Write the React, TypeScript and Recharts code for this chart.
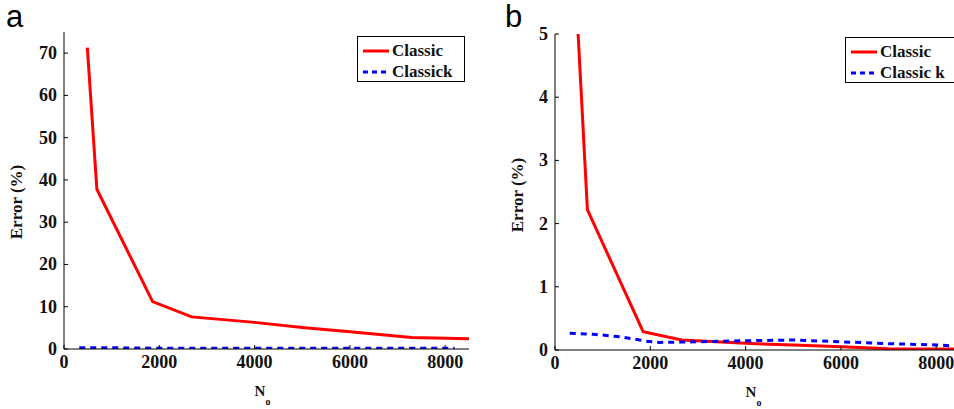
import React from 'react';
import { LineChart, Line, XAxis, YAxis, Legend, Label } from 'recharts';

// panel a
const redA = [
  { n: 490, err: 71.3 }, { n: 690, err: 37.8 }, { n: 1860, err: 11.2 },
  { n: 2680, err: 7.6 }, { n: 4000, err: 6.3 }, { n: 5000, err: 5.1 },
  { n: 6000, err: 4.1 }, { n: 7300, err: 2.75 }, { n: 8500, err: 2.4 },
];
const blueA = [
  { n: 320, err: 0.3 }, { n: 800, err: 0.3 }, { n: 1900, err: 0.2 },
  { n: 4000, err: 0.2 }, { n: 6000, err: 0.2 }, { n: 8200, err: 0.15 },
];
// panel b
const redB = [
  { n: 450, err: 5.5 }, { n: 680, err: 2.22 }, { n: 1850, err: 0.29 },
  { n: 2660, err: 0.16 }, { n: 4000, err: 0.105 }, { n: 5000, err: 0.08 },
  { n: 6000, err: 0.05 }, { n: 7000, err: 0.02 }, { n: 8500, err: 0.015 },
];
const blueB = [
  { n: 310, err: 0.265 }, { n: 800, err: 0.25 }, { n: 1360, err: 0.21 },
  { n: 1920, err: 0.14 }, { n: 2200, err: 0.12 }, { n: 3000, err: 0.13 },
  { n: 4000, err: 0.147 }, { n: 5000, err: 0.158 }, { n: 6000, err: 0.13 },
  { n: 7000, err: 0.1 }, { n: 8000, err: 0.08 }, { n: 8500, err: 0.06 },
];

const xTicks = [0, 2000, 4000, 6000, 8000];
const yTicksA = [0, 10, 20, 30, 40, 50, 60, 70];
const yTicksB = [0, 1, 2, 3, 4, 5];
const namesA = ['Classic', 'Classick'];
const namesB = ['Classic', 'Classic k'];

const serif = '"Liberation Serif", "Times New Roman", serif';
const RED = '#ff0000';
const BLUE = '#0000ff';

const XTick = (p: any) => (
  <g>
    <line x1={p.x} y1={p.y} x2={p.x} y2={p.y - 4} stroke="#000" strokeWidth={1} />
    <text x={p.x} y={p.y + 19} textAnchor="middle" fontFamily={serif} fontWeight="bold" fontSize={18} fill="#111">
      {p.payload.value}
    </text>
  </g>
);

const YTick = (p: any) => (
  <g>
    <line x1={p.x} y1={p.y} x2={p.x + 4} y2={p.y} stroke="#000" strokeWidth={1} />
    <text x={p.x - 7} y={p.y + 6} textAnchor="end" fontFamily={serif} fontWeight="bold" fontSize={18} fill="#111">
      {p.payload.value}
    </text>
  </g>
);

const XLabel = (p: any) => {
  const vb = p.viewBox;
  const cx = vb.x + vb.width / 2 - 4;
  return (
    <text x={cx} y={vb.y + 47} textAnchor="middle" fontFamily={serif} fontWeight="bold" fontSize={15} fill="#111">
      <tspan>N</tspan>
      <tspan fontSize={10} dy={9}>o</tspan>
    </text>
  );
};

const makeYLabel = (lx: number, ly: number) => () => (
  <text x={lx} y={ly} transform={`rotate(-90 ${lx} ${ly})`} textAnchor="middle" dominantBaseline="central"
    fontFamily={serif} fontWeight="bold" fontSize={17} fill="#111">
    Error (%)
  </text>
);

const makeLegend = (w: number) => (props: any) => (
  <div style={{ border: '1.5px solid #000', background: '#fff', width: w, height: 46, padding: '3px 0 0 5px', boxSizing: 'border-box' }}>
    {(props.payload || []).map((e: any, i: number) => (
      <div key={i} style={{ display: 'flex', alignItems: 'center', height: 21 }}>
        <svg width={26} height={6} style={{ marginRight: 3 }}>
          <line x1={0} y1={3} x2={26} y2={3} stroke={e.color} strokeWidth={3} strokeDasharray={i === 1 ? '5 4' : undefined} />
        </svg>
        <span style={{ fontFamily: serif, fontWeight: 'bold', fontSize: 17, color: '#111', whiteSpace: 'nowrap' }}>{e.value}</span>
      </div>
    ))}
  </div>
);

const letter = (ch: string, left: number) => (
  <div style={{ position: 'absolute', left, top: 2, fontFamily: '"Liberation Sans", Arial, sans-serif', fontSize: 31, lineHeight: '30px', color: '#000' }}>
    {ch}
  </div>
);

export default function App() {
  return (
    <div style={{ position: 'absolute', left: 0, top: 0, width: 954, height: 409, overflow: 'hidden', background: '#fff' }}>
      {letter('a', 6)}
      {letter('b', 505)}
      <div style={{ position: 'absolute', left: 0, top: 0 }}>
        <LineChart width={477} height={409} margin={{ top: 32, right: 8, left: 0, bottom: 0 }}>
          <XAxis type="number" dataKey="n" domain={[0, 8500]} ticks={xTicks} allowDataOverflow
            tickSize={0} tickMargin={0} tickLine={false} tick={XTick} height={60}
            axisLine={{ stroke: '#000', strokeWidth: 1 }}>
            <Label content={XLabel} />
          </XAxis>
          <YAxis type="number" dataKey="err" domain={[0, 75]} ticks={yTicksA} allowDataOverflow
            tickSize={0} tickMargin={0} tickLine={false} tick={YTick} width={64}
            axisLine={{ stroke: '#000', strokeWidth: 1 }}>
            <Label content={makeYLabel(16, 202)} />
          </YAxis>
          <Legend layout="vertical" align="center" verticalAlign="middle" content={makeLegend(108)}
            wrapperStyle={{ left: 357, top: 36, width: 'auto' }} />
          <Line data={redA} dataKey="err" name={namesA[0]} stroke={RED} strokeWidth={3} dot={false} isAnimationActive={false} />
          <Line data={blueA} dataKey="err" name={namesA[1]} stroke={BLUE} strokeWidth={3} strokeDasharray="6 5" dot={false} isAnimationActive={false} />
        </LineChart>
      </div>
      <div style={{ position: 'absolute', left: 477, top: 0 }}>
        <LineChart width={491} height={409} margin={{ top: 34, right: 8, left: 0, bottom: 0 }}>
          <XAxis type="number" dataKey="n" domain={[0, 8500]} ticks={xTicks} allowDataOverflow
            tickSize={0} tickMargin={0} tickLine={false} tick={XTick} height={59}
            axisLine={{ stroke: '#000', strokeWidth: 1 }}>
            <Label content={XLabel} />
          </XAxis>
          <YAxis type="number" dataKey="err" domain={[0, 5]} ticks={yTicksB} allowDataOverflow
            tickSize={0} tickMargin={0} tickLine={false} tick={YTick} width={78}
            axisLine={{ stroke: '#000', strokeWidth: 1 }}>
            <Label content={makeYLabel(40, 195)} />
          </YAxis>
          <Legend layout="vertical" align="center" verticalAlign="middle" content={makeLegend(124)}
            wrapperStyle={{ left: 368, top: 37, width: 'auto' }} />
          <Line data={redB} dataKey="err" name={namesB[0]} stroke={RED} strokeWidth={3} dot={false} isAnimationActive={false} />
          <Line data={blueB} dataKey="err" name={namesB[1]} stroke={BLUE} strokeWidth={3} strokeDasharray="6 5" dot={false} isAnimationActive={false} />
        </LineChart>
      </div>
    </div>
  );
}
